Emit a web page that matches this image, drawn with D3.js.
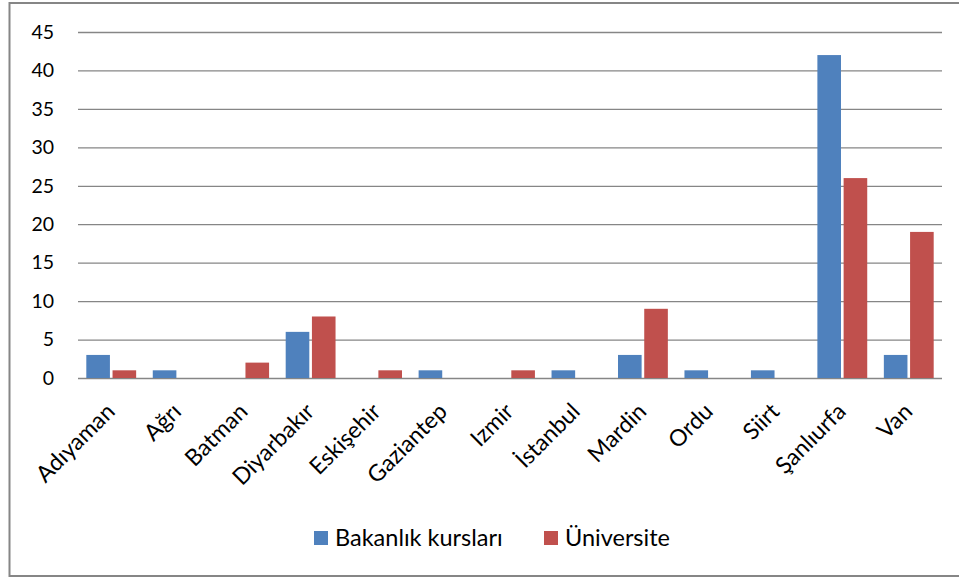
<!DOCTYPE html>
<html><head><meta charset="utf-8">
<script src="https://cdn.jsdelivr.net/npm/d3@7"></script>
<style>body{margin:0;background:#fff}svg{display:block}</style>
</head><body><svg id="c" width="959" height="580"></svg>
<script>
const categories = ["Adıyaman","Ağrı","Batman","Diyarbakır","Eskişehir","Gaziantep","Izmir","İstanbul","Mardin","Ordu","Siirt","Şanlıurfa","Van"];
const seriesNames = ["Bakanlık kursları","Üniversite"];
const bakanlik = [3,1,0,6,0,1,0,1,3,1,1,42,3];
const universite = [1,0,2,8,1,0,1,0,9,0,0,26,19];
const yTicks = [0,5,10,15,20,25,30,35,40,45];
const colors = ["#4f81bd","#c0504d"];

const svg = d3.select("#c");
const font = "Lato, 'Open Sans', sans-serif";
// outer border
svg.append("rect").attr("x",9.5).attr("y",3).attr("width",960).attr("height",573)
  .attr("fill","none").attr("stroke","#868686").attr("stroke-width",2);

const x0 = d3.scaleBand().domain(categories).range([78,942]).paddingInner(0.25).paddingOuter(0.125);
const x1 = d3.scaleBand().domain([0,1]).range([0,x0.bandwidth()]).paddingInner(0.1);
const y = d3.scaleLinear().domain([0,45]).range([378,32]);

const grid = svg.append("g").attr("transform","translate(78,0)")
  .call(d3.axisLeft(y).tickValues(yTicks).tickSize(-864).tickFormat(""));
grid.select(".domain").remove();
grid.selectAll("line").attr("stroke","#868686").attr("stroke-width",1.3);

const yl = svg.append("g").attr("transform","translate(54,0)")
  .call(d3.axisLeft(y).tickValues(yTicks).tickSize(0).tickPadding(0));
yl.select(".domain").remove();
yl.selectAll("text").attr("font-family",font).attr("font-size",19.5).attr("fill","#000");

const data = categories.map((c,i)=>({c, v:[bakanlik[i],universite[i]]}));
const g = svg.append("g").selectAll("g").data(data).join("g")
  .attr("transform",d=>`translate(${x0(d.c)},0)`);
g.selectAll("rect").data(d=>d.v.map((v,k)=>({v,k}))).join("rect")
  .attr("x",d=>x1(d.k)).attr("width",x1.bandwidth())
  .attr("y",d=>y(d.v)).attr("height",d=>378-y(d.v)).attr("fill",d=>colors[d.k]);

const xa = svg.append("g").attr("transform","translate(0,378)")
  .call(d3.axisBottom(x0).tickSize(0).tickPadding(0));
xa.select(".domain").remove();
xa.selectAll("text").attr("font-family",font).attr("font-size",23).attr("fill","#000")
  .attr("text-anchor","end").attr("dy",0).attr("y",0)
  .attr("transform","translate(5,35) rotate(-45)");

const leg = svg.append("g");
const lx = [314,544];
seriesNames.forEach((n,i)=>{
  leg.append("rect").attr("x",lx[i]).attr("y",531).attr("width",14).attr("height",14).attr("fill",colors[i]);
  leg.append("text").attr("x",lx[i]+21).attr("y",546).text(n)
    .attr("font-family",font).attr("font-size",23.5).attr("fill","#000");
});
</script></body></html>
